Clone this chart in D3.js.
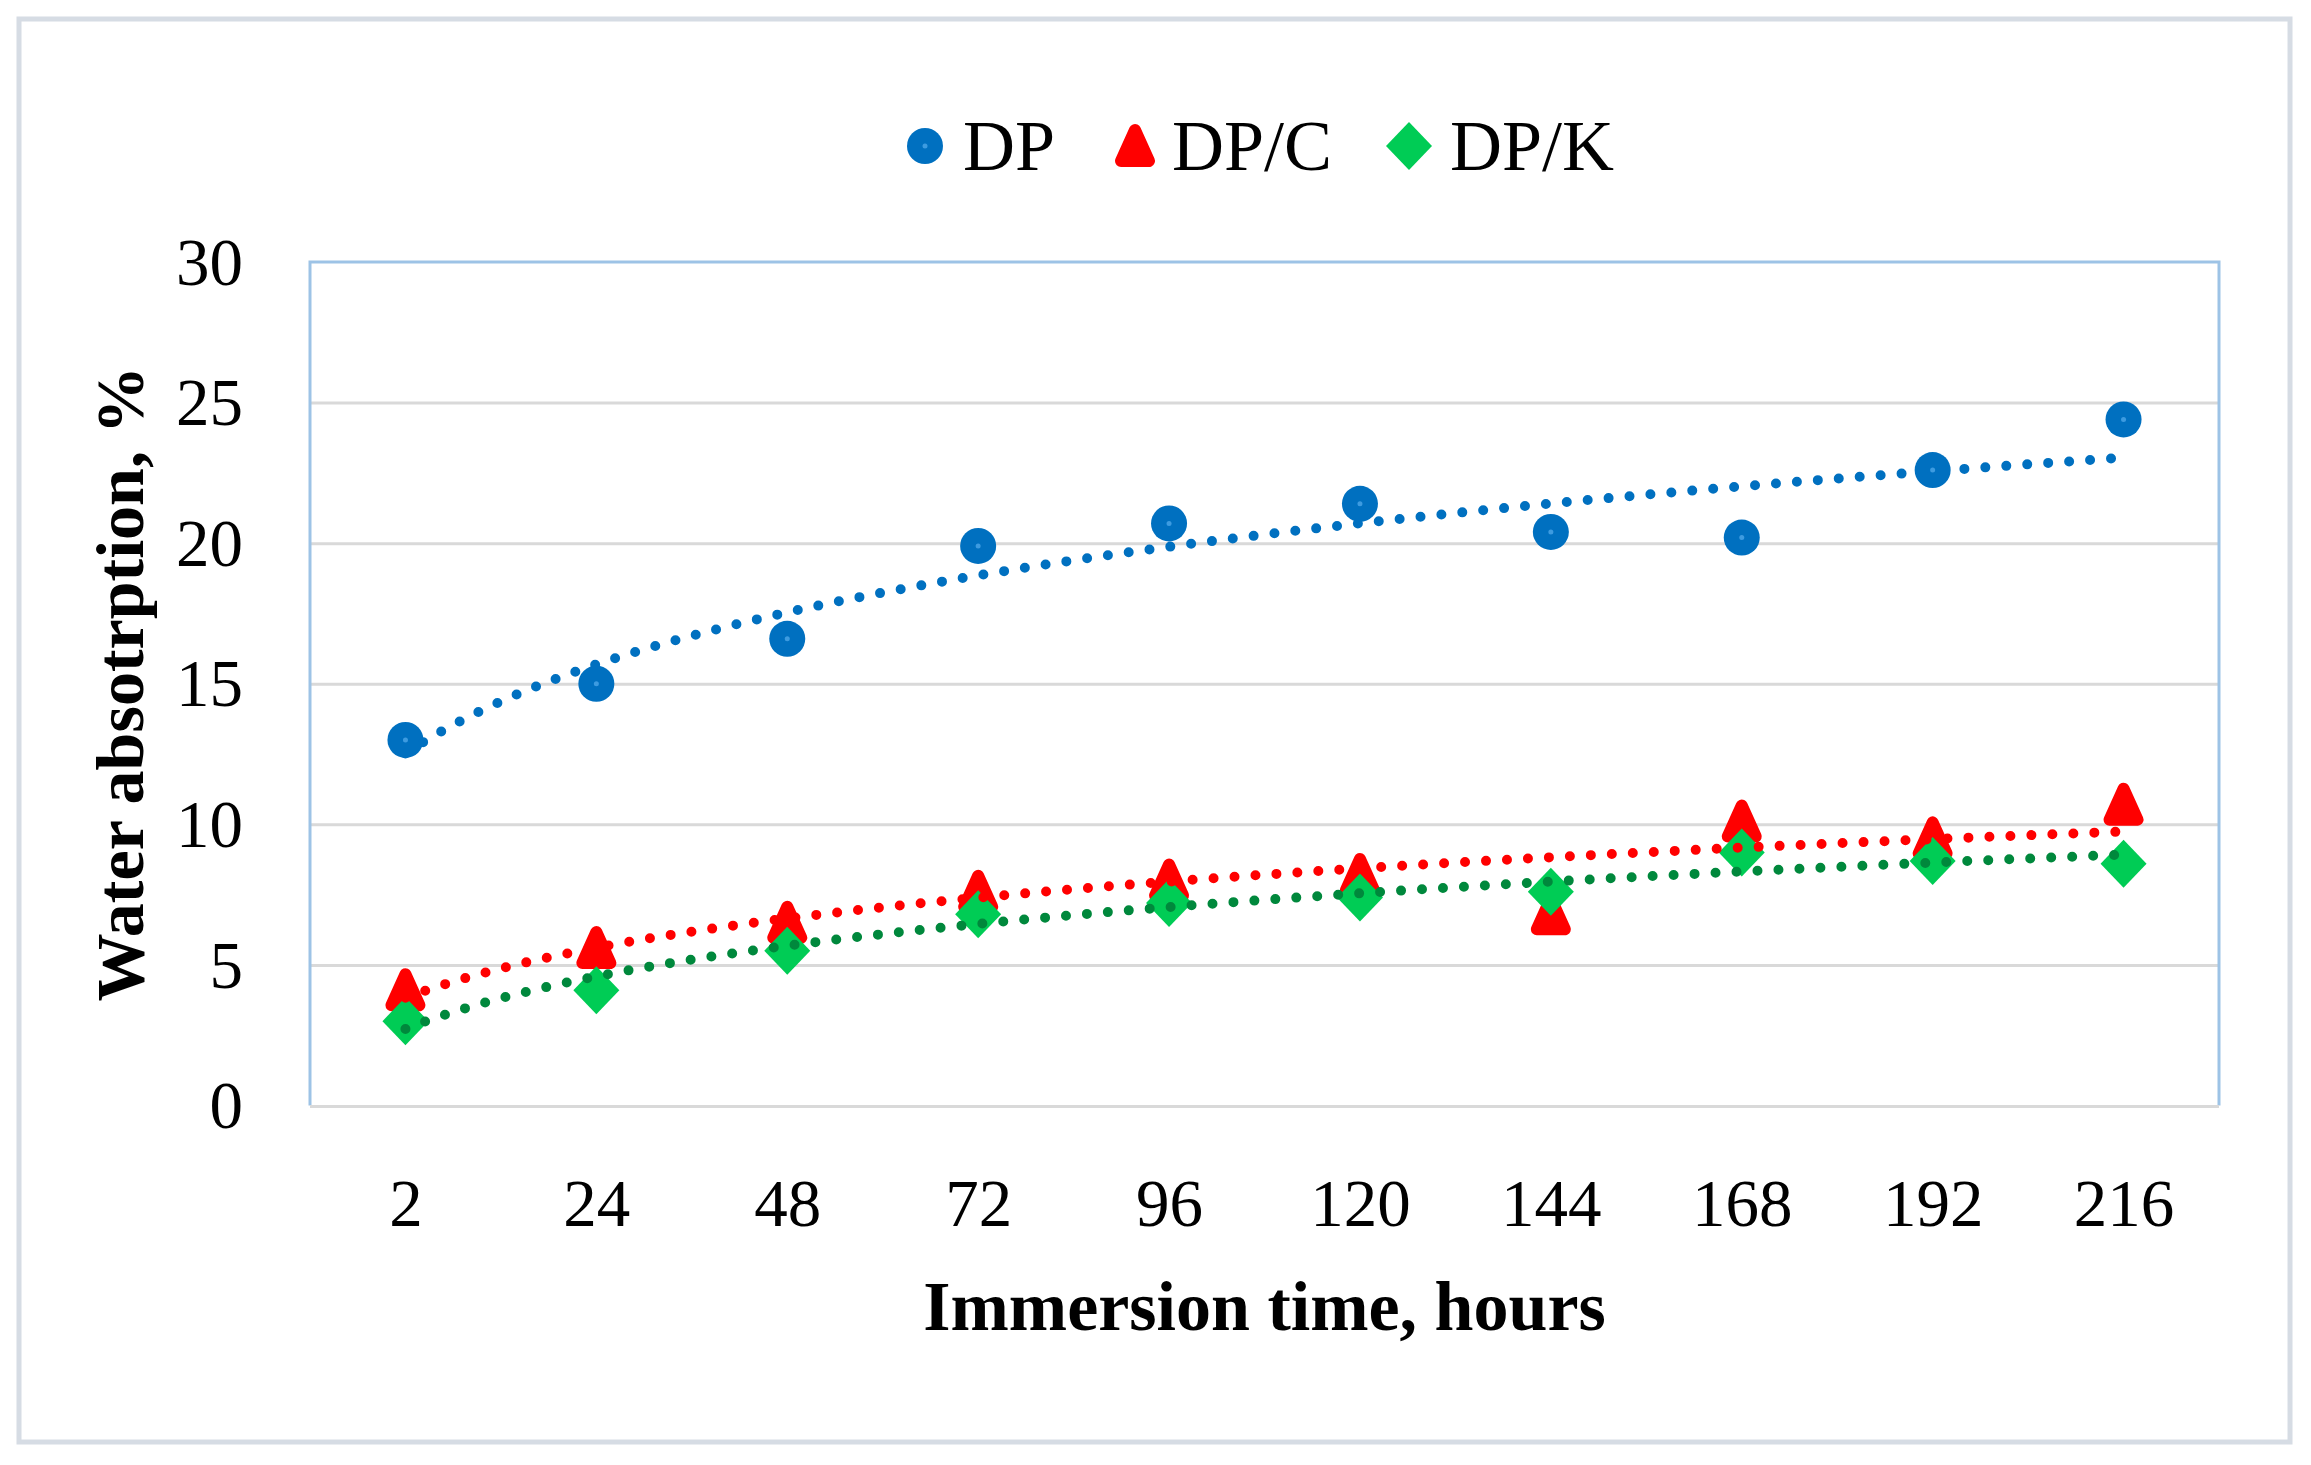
<!DOCTYPE html>
<html>
<head>
<meta charset="utf-8">
<script src="https://cdn.jsdelivr.net/npm/d3@7"></script>
<style>
  body { margin: 0; background: #fff; }
  svg { display: block; }
  text { font-family: "Liberation Serif", "Times New Roman", serif; fill: #000; }
</style>
</head>
<body>
<svg id="chart" width="2311" height="1465"></svg>
<script>
// immersion time categories (hours)
var hours = [2, 24, 48, 72, 96, 120, 144, 168, 192, 216];
var yTicks = [0, 5, 10, 15, 20, 25, 30];

// water absorption, %
var dp  = [13.0, 15.0, 16.6, 19.9, 20.7, 21.4, 20.4, 20.2, 22.6, 24.4];
var dpc = [4.1, 5.6, 6.5, 7.6, 8.0, 8.2, 6.8, 10.1, 9.5, 10.7];
var dpk = [3.0, 4.1, 5.5, 6.8, 7.2, 7.4, 7.6, 9.0, 8.7, 8.6];

var seriesNames = ['DP', 'DP/C', 'DP/K'];

var svg = d3.select('#chart');
var W = 2311, H = 1465;
// note: "top" is taken by window.top, so use plot* names
var plotL = 310, plotR = 2219, plotT = 262, plotB = 1105.5;

// outer frame
svg.append('rect')
  .attr('x', 19).attr('y', 19)
  .attr('width', W - 40).attr('height', H - 42)
  .attr('fill', 'none')
  .attr('stroke', '#d6dce4')
  .attr('stroke-width', 5);

var x = d3.scalePoint().domain(hours).range([plotL, plotR]).padding(0.5);
var y = d3.scaleLinear().domain([0, 30]).range([plotB, plotT]);

// gridlines
svg.append('g')
  .attr('transform', `translate(${plotL},0)`)
  .call(d3.axisLeft(y).tickValues(yTicks.slice(1, -1)).tickSize(-(plotR - plotL)).tickFormat(''))
  .call(g => g.select('.domain').remove())
  .selectAll('line')
    .attr('stroke', '#d9d9d9')
    .attr('stroke-width', 3);

// plot border: blue on top/left/right, gray base line
svg.append('path')
  .attr('d', `M${plotL},${plotB} V${plotT} H${plotR} V${plotB}`)
  .attr('fill', 'none')
  .attr('stroke', '#9dc3e6')
  .attr('stroke-width', 3);
svg.append('line')
  .attr('x1', plotL).attr('x2', plotR)
  .attr('y1', plotB + 1).attr('y2', plotB + 1)
  .attr('stroke', '#d9d9d9')
  .attr('stroke-width', 3);

// y axis labels
svg.append('g')
  .attr('transform', `translate(${plotL},0)`)
  .call(d3.axisLeft(y).tickValues(yTicks).tickSize(0).tickPadding(67))
  .call(g => g.select('.domain').remove())
  .selectAll('text')
    .style('font-family', '"Liberation Serif", serif')
    .style('font-size', '67px')
    .attr('dy', '0.33em');

// x axis labels
svg.append('g')
  .attr('transform', `translate(0,${plotB})`)
  .call(d3.axisBottom(x).tickSize(0))
  .call(g => g.select('.domain').remove())
  .selectAll('text')
    .style('font-family', '"Liberation Serif", serif')
    .style('font-size', '67px')
    .attr('y', 120)
    .attr('dy', 0);

// axis titles
svg.append('text')
  .attr('x', (plotL + plotR) / 2)
  .attr('y', 1330)
  .attr('text-anchor', 'middle')
  .style('font-size', '70px')
  .style('font-weight', 'bold')
  .text('Immersion time, hours');

svg.append('text')
  .attr('transform', `translate(143,${(plotT + plotB) / 2}) rotate(-90)`)
  .attr('text-anchor', 'middle')
  .style('font-size', '68px')
  .style('font-weight', 'bold')
  .text('Water absotrption, %');

// logarithmic trendline, like Excel does: y = a*ln(i) + b, i = 1..n
function logFit(vals) {
  var lx = vals.map((v, i) => Math.log(i + 1));
  var mx = d3.mean(lx), my = d3.mean(vals);
  var sxy = d3.sum(lx, (l, i) => (l - mx) * (vals[i] - my));
  var sxx = d3.sum(lx, l => (l - mx) * (l - mx));
  var a = sxy / sxx;
  return { a: a, b: my - a * mx };
}

var x0 = x(hours[0]), step = x.step();
var trendLine = d3.line()
  .x(d => x0 + (d[0] - 1) * step)
  .y(d => y(d[1]));

function drawTrend(vals, color) {
  var fit = logFit(vals);
  var pts = d3.range(1, vals.length + 0.001, 0.05).map(t => [t, fit.a * Math.log(t) + fit.b]);
  svg.append('path')
    .datum(pts)
    .attr('d', trendLine)
    .attr('fill', 'none')
    .attr('stroke', color)
    .attr('stroke-width', 10)
    .attr('stroke-linecap', 'round')
    .attr('stroke-dasharray', '0 21');
}

// marker shapes
function circleMark(g) {
  g.append('circle').attr('r', 18).attr('fill', '#0070c0');
  g.append('circle').attr('r', 2.5).attr('fill', '#3d9be0');
}
function triangleMark(g) {
  // rounded, a bit teardrop-like as in the Excel export
  g.append('path')
    .attr('d', 'M0,-16 L14,15 L-14,15 Z')
    .attr('fill', '#ff0000')
    .attr('stroke', '#ff0000')
    .attr('stroke-width', 12)
    .attr('stroke-linejoin', 'round');
}
function diamondMark(g) {
  g.append('path')
    .attr('d', 'M0,-24 L23,0 L0,24 L-23,0 Z')
    .attr('fill', '#00cc55');
}

function drawPoints(vals, mark) {
  svg.append('g')
    .selectAll('g')
    .data(vals)
    .enter()
    .append('g')
      .attr('transform', (d, i) => `translate(${x(hours[i])},${y(d)})`)
      .each(function() { mark(d3.select(this)); });
}

drawPoints(dp, circleMark);
drawTrend(dp, '#0070c0');
drawPoints(dpc, triangleMark);
drawPoints(dpk, diamondMark);
drawTrend(dpc, '#ff0000');
drawTrend(dpk, '#00883c');

// legend
var legendItems = [
  { name: seriesNames[0], mark: circleMark, mx: 925, tx: 963 },
  { name: seriesNames[1], mark: triangleMark, mx: 1135, tx: 1172 },
  { name: seriesNames[2], mark: diamondMark, mx: 1409, tx: 1450 }
];
var legend = svg.append('g');
legendItems.forEach(function(it) {
  var g = legend.append('g').attr('transform', `translate(${it.mx},146)`);
  it.mark(g);
  legend.append('text')
    .attr('x', it.tx)
    .attr('y', 170)
    .style('font-size', '72px')
    .text(it.name);
});
</script>
</body>
</html>
